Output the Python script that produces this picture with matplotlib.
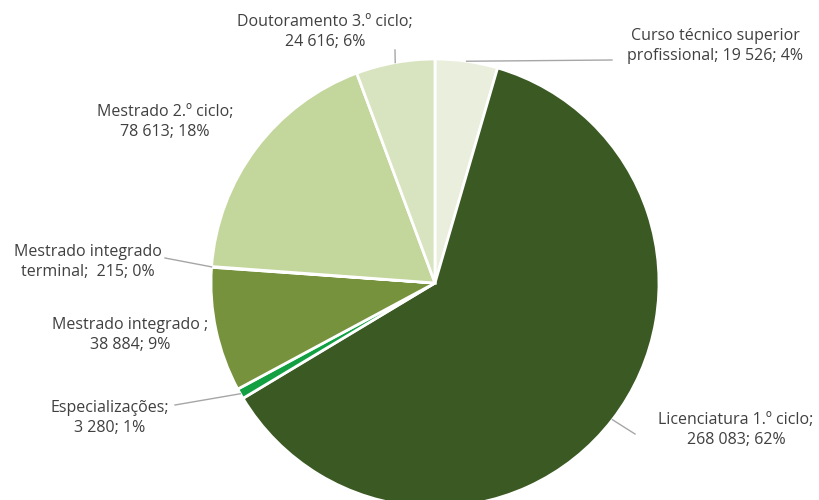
import matplotlib.pyplot as plt
import numpy as np

plt.rcParams['font.family'] = ['Open Sans', 'DejaVu Sans']

# data (clockwise from the top)
categories = ["Curso técnico superior\nprofissional", "Licenciatura 1.º ciclo",
              "Especializações", "Mestrado integrado ", "Mestrado integrado\nterminal",
              "Mestrado 2.º ciclo", "Doutoramento 3.º ciclo"]
values = [19526, 268083, 3280, 38884, 215, 78613, 24616]
value_text = ["19 526", "268 083", "3 280", "38 884", "215", "78 613", "24 616"]
percents = [4, 62, 1, 9, 0, 18, 6]
colors = ['#e9eedd', '#3b5923', '#12a043', '#76923c', '#9bb068', '#c3d69b', '#d8e4bf']

# label layout (pixel coords, y up)
label_pos = [(715, 454), (736, 70), (110, 82), (130, 165), (88, 238), (165, 378), (325, 468)]
label_fmt = ["{c}; {v}; {p}%", "{c};\n{v}; {p}%", "{c};\n{v}; {p}%", "{c};\n{v}; {p}%",
             "{c};  {v}; {p}%", "{c};\n{v}; {p}%", "{c};\n{v}; {p}%"]
# leader line ends near label, None = no line
leader_end = [(612, 440), (635, 66), (175, 95), None, (165, 242), None, (395, 450)]

fig = plt.figure(figsize=(8.2, 5), dpi=100)
ax = fig.add_axes([0, 0, 1, 1])

cx, cy, r = 435, 217, 224
wedges, _ = ax.pie(values, colors=colors, startangle=90, counterclock=False,
                   center=(cx, cy), radius=r, frame=True,
                   wedgeprops={'edgecolor': 'white', 'linewidth': 2})
ax.set_xlim(0, 820)
ax.set_ylim(0, 500)
ax.set_aspect('equal')
ax.axis('off')

for i, w in enumerate(wedges):
    txt = label_fmt[i].format(c=categories[i], v=value_text[i], p=percents[i])
    x, y = label_pos[i]
    ax.text(x, y, txt, ha='center', va='center', fontsize=11.5, color='#404040',
            linespacing=1.4)
    if leader_end[i] is not None:
        mid = np.deg2rad((w.theta1 + w.theta2) / 2)
        sx, sy = cx + r * np.cos(mid), cy + r * np.sin(mid)
        ex, ey = leader_end[i]
        ax.plot([sx, ex], [sy, ey], color='#a6a6a6', linewidth=1)

fig.savefig('out.png', dpi=100)
